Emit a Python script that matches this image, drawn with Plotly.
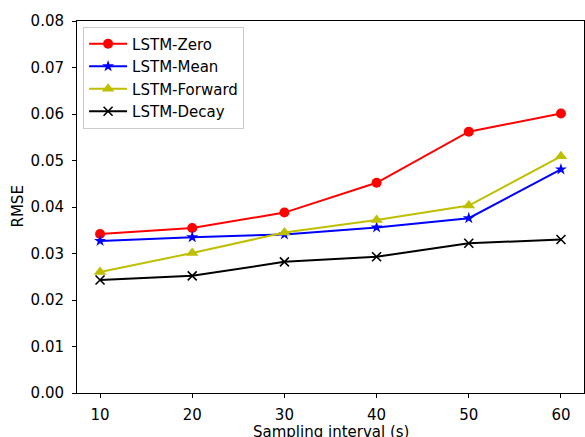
import plotly.graph_objects as go

# Sampling interval (s)
intervals = [10, 20, 30, 40, 50, 60]

# RMSE per imputation strategy
rmse_zero = [0.0342, 0.0355, 0.0388, 0.0452, 0.0562, 0.0601]
rmse_mean = [0.0327, 0.0335, 0.0341, 0.0356, 0.0376, 0.0481]
rmse_forward = [0.0260, 0.0301, 0.0345, 0.0372, 0.0403, 0.0509]
rmse_decay = [0.0243, 0.0252, 0.0282, 0.0293, 0.0322, 0.0330]

y_ticks = [0.00, 0.01, 0.02, 0.03, 0.04, 0.05, 0.06, 0.07, 0.08]
y_tick_text = [f"{v:.2f}" for v in y_ticks]

series = [
    ("LSTM-Zero", rmse_zero, "#ff0000", "circle", 10),
    ("LSTM-Mean", rmse_mean, "#0000ff", "star", 9),
    ("LSTM-Forward", rmse_forward, "#bfbf00", "triangle-up", 11),
    ("LSTM-Decay", rmse_decay, "#000000", "x-thin-open", 9),
]

fig = go.Figure()
for name, vals, color, symbol, size in series:
    marker = dict(symbol=symbol, size=size, color=color)
    if symbol == "x-thin-open":
        marker["line"] = dict(color=color, width=1.6)
    fig.add_trace(go.Scatter(
        x=intervals, y=vals, name=name, mode="lines+markers",
        line=dict(color=color, width=2),
        marker=marker,
    ))

font_family = "DejaVu Sans"
fs = 15
W, H = 585, 437
ml, mr, mt, mb = 77, 1, 21, 44
plot_w = W - ml - mr
plot_h = H - mt - mb

fig.update_layout(
    width=W, height=H,
    margin=dict(l=ml, r=mr, t=mt, b=mb, pad=0, autoexpand=False),
    paper_bgcolor="white", plot_bgcolor="white",
    font=dict(family=font_family, size=fs, color="black"),
    showlegend=True,
    legend=dict(
        x=0.012, y=1 - 5.5 / plot_h, xanchor="left", yanchor="top",
        bgcolor="rgba(255,255,255,0.8)", bordercolor="#cccccc", borderwidth=1,
        font=dict(family=font_family, size=15, color="black"),
        itemwidth=38, tracegroupgap=0,
    ),
    annotations=[
        # axis titles placed by pixel offset from the plot area
        dict(text="Sampling interval (s)", xref="paper", yref="paper",
             x=0.5, y=-28 / plot_h, xanchor="center", yanchor="top",
             showarrow=False, font=dict(family=font_family, size=fs)),
        dict(text="RMSE", xref="paper", yref="paper", textangle=-90,
             x=(17.5 - ml) / plot_w, y=0.5, xanchor="center", yanchor="middle",
             showarrow=False, font=dict(family=font_family, size=fs)),
    ],
)
fig.update_xaxes(
    range=[7.5, 62.5], tickvals=intervals, automargin=False,
    ticks="outside", ticklen=4, tickwidth=1, tickcolor="black",
    ticklabelstandoff=4,
    showline=True, linecolor="black", linewidth=1, mirror=True,
    showgrid=False, zeroline=False,
)
fig.update_yaxes(
    range=[0, 0.08], tickvals=y_ticks, ticktext=y_tick_text, automargin=False,
    ticks="outside", ticklen=4, tickwidth=1, tickcolor="black",
    ticklabelstandoff=5,
    showline=True, linecolor="black", linewidth=1, mirror=True,
    showgrid=False, zeroline=False,
)

fig.write_html("out.html")
